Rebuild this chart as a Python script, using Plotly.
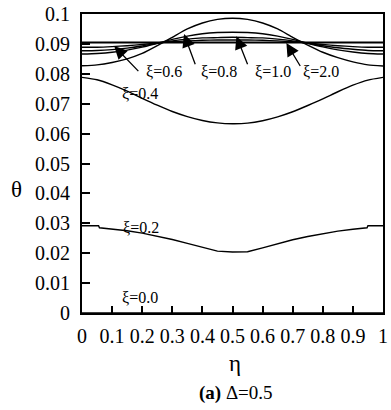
import plotly.graph_objects as go

# Transverse coordinate eta and temperature profiles theta for each axial station xi
eta = [0.0, 0.05, 0.1, 0.15, 0.2, 0.25, 0.3, 0.35, 0.4, 0.45, 0.5,
       0.55, 0.6, 0.65, 0.7, 0.75, 0.8, 0.85, 0.9, 0.95, 1.0]

theta_xi00 = [0.0] * 21

eta_xi02 = [0.0, 0.055, 0.058, 0.1, 0.15, 0.2, 0.25, 0.3, 0.35, 0.4, 0.45, 0.5,
            0.55, 0.6, 0.65, 0.7, 0.75, 0.8, 0.85, 0.9, 0.947, 0.95, 1.0]
theta_xi02 = [0.0292, 0.0292, 0.0285, 0.0281, 0.0275, 0.0267, 0.0257, 0.0246, 0.0233,
              0.0220, 0.0207, 0.0204, 0.0205, 0.0218, 0.0232, 0.0245, 0.0256, 0.0266,
              0.0274, 0.0280, 0.0285, 0.0292, 0.0292]

theta_xi04 = [0.0788, 0.0780, 0.0763, 0.0742, 0.0718, 0.0695, 0.0674, 0.0657, 0.0644,
              0.0636, 0.0633, 0.0635, 0.0643, 0.0656, 0.0673, 0.0694, 0.0716, 0.0740,
              0.0762, 0.0779, 0.0788]

theta_overshoot = [0.0827, 0.0830, 0.0838, 0.0850, 0.0868, 0.0894, 0.0922, 0.0950, 0.0970,
                   0.0982, 0.0986, 0.0982, 0.0970, 0.0950, 0.0922, 0.0896, 0.0872, 0.0854,
                   0.0840, 0.0830, 0.0826]

theta_xi08 = [0.0866, 0.0868, 0.0872, 0.0879, 0.0889, 0.0902, 0.0915, 0.0926, 0.0934,
              0.0938, 0.0939, 0.0938, 0.0934, 0.0926, 0.0915, 0.0902, 0.0890, 0.0880,
              0.0873, 0.0868, 0.0866]

theta_xi10 = [0.0877, 0.0878, 0.0881, 0.0886, 0.0893, 0.0902, 0.0910, 0.0916, 0.0920,
              0.0921, 0.0922, 0.0921, 0.0920, 0.0916, 0.0910, 0.0902, 0.0894, 0.0887,
              0.0882, 0.0878, 0.0877]

theta_xi06 = [0.0889, 0.0889, 0.0891, 0.0894, 0.0898, 0.0903, 0.0907, 0.0910, 0.0912,
              0.0913, 0.0913, 0.0913, 0.0912, 0.0910, 0.0907, 0.0903, 0.0898, 0.0894,
              0.0891, 0.0889, 0.0889]

theta_xi20 = [0.0905] * 21

x_ticks = [0, 0.1, 0.2, 0.3, 0.4, 0.5, 0.6, 0.7, 0.8, 0.9, 1]
x_tick_text = ["0", "0.1", "0.2", "0.3", "0.4", "0.5", "0.6", "0.7", "0.8", "0.9", "1"]
y_ticks = [0, 0.01, 0.02, 0.03, 0.04, 0.05, 0.06, 0.07, 0.08, 0.09, 0.1]
y_tick_text = ["0", "0.01", "0.02", "0.03", "0.04", "0.05", "0.06", "0.07", "0.08", "0.09", "0.1"]

# Curve labels: (text, text position, arrow tail, arrow tip) in data units
arrow_labels = [
    ("ξ=0.6", (0.274, 0.0807), (0.192, 0.0804), (0.107, 0.0893)),
    ("ξ=0.8", (0.454, 0.0807), (0.378, 0.0827), (0.339, 0.0933)),
    ("ξ=1.0", (0.634, 0.0807), (0.552, 0.0827), (0.513, 0.0926)),
    ("ξ=2.0", (0.794, 0.0807), (0.728, 0.0821), (0.679, 0.0903)),
]
plain_labels = [
    ("ξ=0.4", (0.192, 0.0735)),
    ("ξ=0.2", (0.195, 0.0287)),
    ("ξ=0.0", (0.192, 0.0051)),
]

SERIF = "Liberation Serif"

fig = go.Figure()
series = [
    ("ξ=0.0", eta, theta_xi00, 1.4),
    ("ξ=0.2", eta_xi02, theta_xi02, 1.4),
    ("ξ=0.4", eta, theta_xi04, 1.4),
    ("ξ overshoot", eta, theta_overshoot, 1.4),
    ("ξ=0.8", eta, theta_xi08, 1.4),
    ("ξ=1.0", eta, theta_xi10, 1.4),
    ("ξ=0.6", eta, theta_xi06, 1.4),
    ("ξ=2.0", eta, theta_xi20, 2.0),
]
for name, xs, ys, w in series:
    if name == "ξ=0.2":
        style = dict(color="black", width=w)
    else:
        style = dict(color="black", width=w, shape="spline", smoothing=0.6)
    fig.add_trace(go.Scatter(x=xs, y=ys, mode="lines", name=name, line=style,
                             hoverinfo="skip"))

label_font = dict(family=SERIF, size=16, color="black")
annotations = []
for text, (tx, ty), (ax, ay), (px, py) in arrow_labels:
    annotations.append(dict(x=px, y=py, ax=ax, ay=ay, xref="x", yref="y",
                            axref="x", ayref="y", text="", showarrow=True,
                            arrowhead=2, arrowsize=2.0, arrowwidth=1.3,
                            arrowcolor="black", standoff=0, startstandoff=0))
    annotations.append(dict(x=tx, y=ty, xref="x", yref="y", text=text,
                            xanchor="center", yanchor="middle",
                            showarrow=False, font=label_font))
for text, (tx, ty) in plain_labels:
    annotations.append(dict(x=tx, y=ty, xref="x", yref="y", text=text,
                            xanchor="center", yanchor="middle",
                            showarrow=False, font=label_font))

# Axis titles and caption
annotations.append(dict(x=-0.219, y=0.413, xref="paper", yref="paper", text="θ",
                        xanchor="center", yanchor="middle", showarrow=False,
                        font=dict(family=SERIF, size=23, color="black")))
annotations.append(dict(x=0.508, y=-0.168, xref="paper", yref="paper", text="η",
                        xanchor="center", yanchor="middle", showarrow=False,
                        font=dict(family=SERIF, size=23, color="black")))
annotations.append(dict(x=0.510, y=-0.268, xref="paper", yref="paper",
                        text="<b>(a)</b> Δ=0.5", xanchor="center", yanchor="middle",
                        showarrow=False, font=dict(family=SERIF, size=19, color="black")))

axis_common = dict(showgrid=False, zeroline=False, showline=True, linecolor="black",
                   linewidth=2, mirror=True, ticks="inside", tickcolor="black",
                   tickwidth=2, tickfont=dict(family=SERIF, size=20, color="black"))

fig.update_layout(
    width=391, height=410,
    margin=dict(l=82, r=3, t=11, b=97),
    paper_bgcolor="white", plot_bgcolor="white",
    showlegend=False,
    font=dict(family=SERIF, color="black"),
    xaxis=dict(range=[0, 1], tickvals=x_ticks, ticktext=x_tick_text, ticklen=7,
               ticklabelstandoff=4, **axis_common),
    yaxis=dict(range=[0, 0.1], tickvals=y_ticks, ticktext=y_tick_text, ticklen=8,
               ticklabelstandoff=6, **axis_common),
    annotations=annotations,
)

fig.write_html("out.html")
